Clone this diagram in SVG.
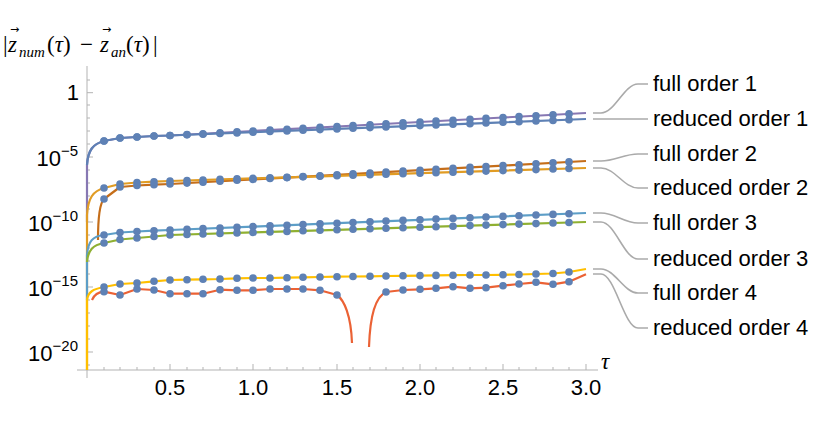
<svg xmlns="http://www.w3.org/2000/svg" width="830" height="429" viewBox="0 0 830 429">
<style>
.ax{stroke:#b3b3b3;stroke-width:1;fill:none}
.c{fill:none;stroke-width:2.2;stroke-linejoin:round}
.d{fill:none;stroke:none;marker-mid:url(#dot)}
.co{fill:none;stroke:#aaaaaa;stroke-width:1.6}
.t{font-family:"Liberation Sans",Arial,sans-serif;font-size:22px;fill:#000}
.lbl{font-family:"Liberation Sans",Arial,sans-serif;font-size:22px;fill:#000}
.m{font-family:"Liberation Serif","Times New Roman",serif;font-size:23px;fill:#000}
.i{font-style:italic}
.s{font-size:15px;font-style:italic}
.ar{font-family:"DejaVu Sans",sans-serif;font-size:11px;fill:#000}
</style>
<defs>
<marker id="dot" markerWidth="10" markerHeight="10" refX="5" refY="5" markerUnits="userSpaceOnUse"><circle cx="5" cy="5" r="3.8" fill="#5E81B5"/></marker>
</defs>
<g id="axes">
<path class="ax" d="M87,66 V378 M77,370 H598"/>
<path class="ax" d="M87,80h3M87,92.7h6M87,105h3M87,118h3M87,131h3M87,144h3M87,157h6M87,170h3M87,183h3M87,196h3M87,209h3M87,222h6M87,235h3M87,248h3M87,261h3M87,274h3M87,287h6M87,300h3M87,313h3M87,326h3M87,339h3M87,352h6M87,365h3"/>
<path class="ax" d="M104,370v-3M120,370v-3M137,370v-3M154,370v-3M170,370v-6M187,370v-3M203,370v-3M220,370v-3M237,370v-3M253,370v-6M270,370v-3M287,370v-3M303,370v-3M320,370v-3M337,370v-6M353,370v-3M370,370v-3M386,370v-3M403,370v-3M420,370v-6M436,370v-3M453,370v-3M470,370v-3M486,370v-3M503,370v-6M519,370v-3M536,370v-3M553,370v-3M569,370v-3M586,370v-6"/>
<text class="t" x="79" y="100" text-anchor="end">1</text>
<text class="t" x="78" y="166" text-anchor="end">10<tspan font-size="15" dy="-10">−5</tspan></text>
<text class="t" x="78" y="231" text-anchor="end">10<tspan font-size="15" dy="-10">−10</tspan></text>
<text class="t" x="78" y="296" text-anchor="end">10<tspan font-size="15" dy="-10">−15</tspan></text>
<text class="t" x="78" y="361" text-anchor="end">10<tspan font-size="15" dy="-10">−20</tspan></text>
<text class="t" x="170" y="395" text-anchor="middle">0.5</text>
<text class="t" x="253" y="395" text-anchor="middle">1.0</text>
<text class="t" x="337" y="395" text-anchor="middle">1.5</text>
<text class="t" x="420" y="395" text-anchor="middle">2.0</text>
<text class="t" x="503" y="395" text-anchor="middle">2.5</text>
<text class="t" x="586" y="395" text-anchor="middle">3.0</text>
<text class="m i" x="601" y="369">τ</text>
</g>
<g id="title">
<text class="m" x="3" y="52">|</text>
<text class="m i" x="8" y="52">z</text>
<text class="m s" x="19" y="57">num</text>
<text class="m" x="47" y="52">(<tspan class="i">τ</tspan>)</text>
<text class="m" x="80" y="52">−</text>
<text class="m i" x="100" y="52">z</text>
<text class="m s" x="111" y="57">an</text>
<text class="m" x="126" y="52">(<tspan class="i">τ</tspan>)</text>
<text class="m" x="153" y="52">|</text>
<text class="ar" x="10" y="33">→</text>
<text class="ar" x="102" y="33">→</text>
</g>
<g id="curves">
<path class="c" stroke="#8778B3" d="M87,222 L87,165 C88,150 93,144 104,141 L120,138 L137,137 L154,136 L170,135.5 L253,131 L337,126.5 L420,122 L503,117.5 L586,113"/>
<path class="c" stroke="#5E81B5" d="M87,165 C88,150 93,144 104,141 L120,138 L137,137 L154,136 L170,135.5 L253,132.2 L337,128.9 L420,125.6 L503,122.3 L586,119"/>
<path class="c" stroke="#C56E1A" d="M98,240 C98,215 100,203 104,199 L120,187 L137,185.5 L154,184.7 L170,184 L253,179.4 L337,174.8 L420,170.2 L503,165.6 L586,161"/>
<path class="c" stroke="#E19C24" d="M87,370 L87,215 C88,198 93,191 104,188 L120,184 L137,182.5 L154,181.7 L170,181 L253,178.4 L337,175.8 L420,173.2 L503,170.6 L586,168"/>
<path class="c" stroke="#5D9EC7" d="M87,300 L87,255 C88,241 93,236 104,235 L120,232.5 L137,231.5 L154,230.7 L170,230 L253,226.6 L337,223.2 L420,219.8 L503,216.4 L586,213"/>
<path class="c" stroke="#8FB032" d="M87,262 C88,250 93,245 104,243 L120,239.5 L137,238 L154,236.5 L170,235 L253,232.4 L337,229.8 L420,227.2 L503,224.6 L586,222"/>
<path class="c" stroke="#FFBF00" d="M87,370 L87,300 C88,292 93,289 104,287 L120,284 L137,283 L154,281.3 L170,280 L187,279.7 L203,279.3 L220,279 L237,278.3 L253,278 L270,278 L287,277.7 L303,277.3 L320,277 L337,276.7 L353,276.5 L370,276.3 L386,276 L403,275.8 L420,275.6 L436,275.4 L453,275.2 L470,275 L486,275 L503,274.8 L519,274.5 L536,274 L553,273.5 L569,272 L586,269"/>
<path class="c" stroke="#EB6235" d="M92,300 C95,293 100,292 104,291.7 L120,295 L137,289 L154,290 L170,293.7 L187,293.7 L203,293.7 L220,289.7 L237,290.3 L253,290.3 L270,289 L287,289 L303,289 L320,290.3 L337,295 C344,300 351,315 352,343"/>
<path class="c" stroke="#EB6235" d="M369,347 C370,315 375,297 386,292 L403,290 L420,289.3 L436,288.3 L453,286.7 L470,288.3 L486,287.7 L503,285.7 L519,284 L536,282.3 L553,284.3 L569,281.7 L586,274.3"/>
</g>
<g id="dots">
<polyline class="d" points="95,142 104,141 120,138 137,137 154,136 170,135.5 187,134.6 203,133.7 220,132.8 237,131.9 253,131 270,130.1 287,129.2 303,128.3 320,127.4 337,126.5 353,125.6 370,124.7 386,123.8 403,122.9 420,122 436,121.1 453,120.2 470,119.3 486,118.4 503,117.5 519,116.6 536,115.7 553,114.8 569,113.9 586,113"/>
<polyline class="d" points="95,142 104,141 120,138 137,137 154,136 170,135.5 187,134.8 203,134.2 220,133.5 237,132.9 253,132.2 270,131.5 287,130.9 303,130.2 320,129.6 337,128.9 353,128.3 370,127.6 386,126.9 403,126.3 420,125.6 436,125 453,124.3 470,123.7 486,123 503,122.3 519,121.7 536,121 553,120.4 569,119.7 586,119"/>
<polyline class="d" points="98,200 104,199 120,187 137,185.5 154,184.7 170,184 187,183.1 203,182.2 220,181.2 237,180.3 253,179.4 270,178.5 287,177.6 303,176.6 320,175.7 337,174.8 353,173.9 370,173 386,172 403,171.1 420,170.2 436,169.3 453,168.4 470,167.4 486,166.5 503,165.6 519,164.7 536,163.8 553,162.8 569,161.9 586,161"/>
<polyline class="d" points="95,189 104,188 120,184 137,182.5 154,181.7 170,181 187,180.5 203,180 220,179.4 237,178.9 253,178.4 270,177.9 287,177.4 303,176.8 320,176.3 337,175.8 353,175.3 370,174.8 386,174.2 403,173.7 420,173.2 436,172.7 453,172.2 470,171.6 486,171.1 503,170.6 519,170.1 536,169.6 553,169 569,168.5 586,168"/>
<polyline class="d" points="95,236 104,235 120,232.5 137,231.5 154,230.7 170,230 187,229.3 203,228.6 220,228 237,227.3 253,226.6 270,225.9 287,225.2 303,224.6 320,223.9 337,223.2 353,222.5 370,221.8 386,221.1 403,220.4 420,219.8 436,219.1 453,218.4 470,217.7 486,217 503,216.4 519,215.7 536,215 553,214.4 569,213.7 586,213"/>
<polyline class="d" points="95,244 104,243 120,239.5 137,238 154,236.5 170,235 187,234.5 203,234 220,233.4 237,232.9 253,232.4 270,231.9 287,231.4 303,230.8 320,230.3 337,229.8 353,229.3 370,228.8 386,228.2 403,227.7 420,227.2 436,226.7 453,226.2 470,225.6 486,225.1 503,224.6 519,224.1 536,223.6 553,223 569,222.5 586,222"/>
<polyline class="d" points="95,288 104,287 120,284 137,283 154,281.3 170,280 187,279.7 203,279.3 220,279 237,278.3 253,278 270,278 287,277.7 303,277.3 320,277 337,276.7 353,276.5 370,276.3 386,276 403,275.8 420,275.6 436,275.4 453,275.2 470,275 486,275 503,274.8 519,274.5 536,274 553,273.5 569,272 586,269"/>
<polyline class="d" points="95,292 104,291.7 120,295 137,289 154,290 170,293.7 187,293.7 203,293.7 220,289.7 237,290.3 253,290.3 270,289 287,289 303,289 320,290.3 337,295 352,343"/>
<polyline class="d" points="369,347 386,292 403,290 420,289.3 436,288.3 453,286.7 470,288.3 486,287.7 503,285.7 519,284 536,282.3 553,284.3 569,281.7 586,274.3"/>
</g>
<g id="callouts">
<path class="co" d="M593,113H601C615,113 624,84 638,84H648"/>
<path class="co" d="M593,119H648"/>
<path class="co" d="M593,161H601C615,161 624,154 638,154H648"/>
<path class="co" d="M593,168H601C615,168 624,188 638,188H648"/>
<path class="co" d="M593,213H601C615,213 624,223 638,223H648"/>
<path class="co" d="M593,222H601C615,222 624,259 638,259H648"/>
<path class="co" d="M593,269H601C615,269 624,293 638,293H648"/>
<path class="co" d="M593,274H601C615,274 624,328 638,328H648"/>
</g>
<g id="labels">
<text class="lbl" x="653" y="91">full order 1</text>
<text class="lbl" x="653" y="126">reduced order 1</text>
<text class="lbl" x="653" y="161">full order 2</text>
<text class="lbl" x="653" y="195">reduced order 2</text>
<text class="lbl" x="653" y="230">full order 3</text>
<text class="lbl" x="653" y="266">reduced order 3</text>
<text class="lbl" x="653" y="300">full order 4</text>
<text class="lbl" x="653" y="335">reduced order 4</text>
</g>
</svg>
